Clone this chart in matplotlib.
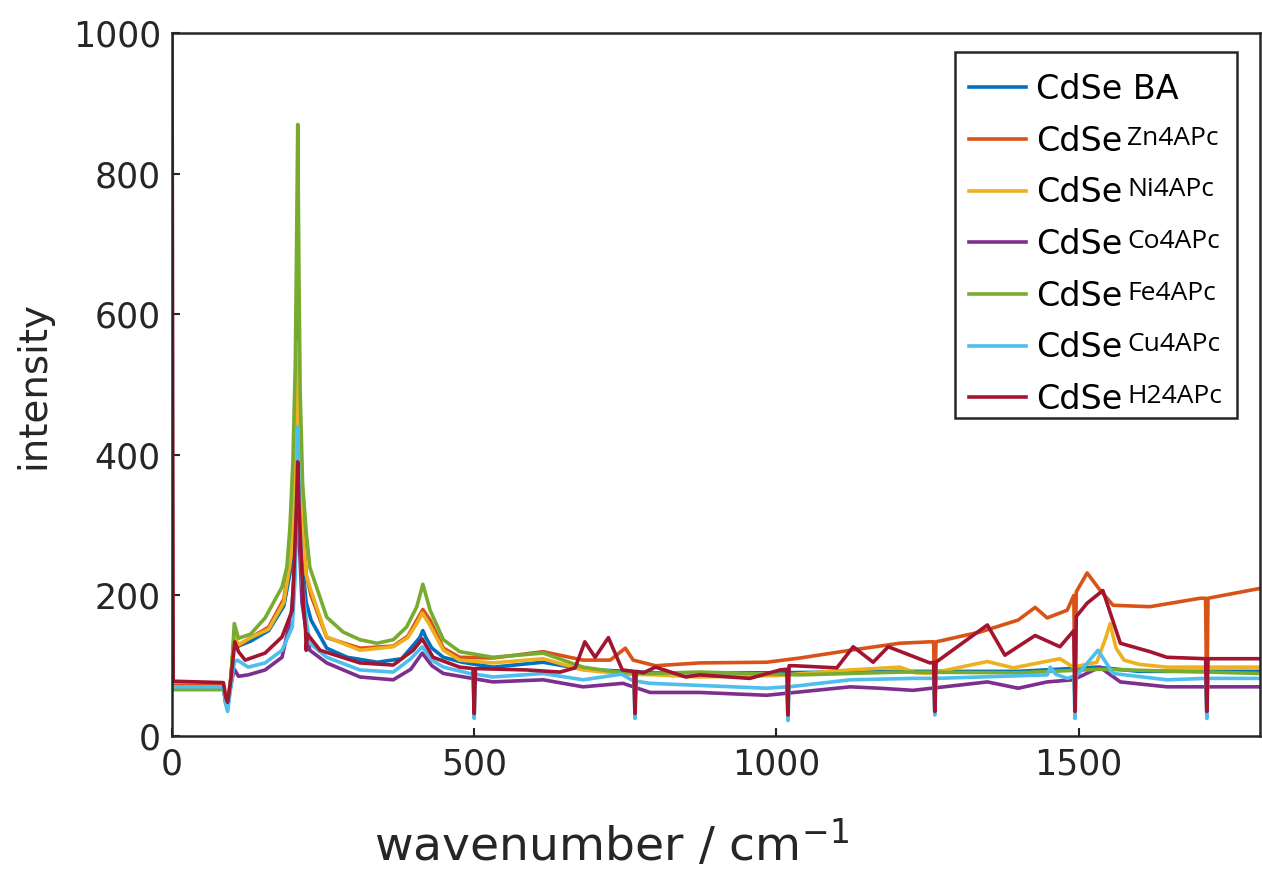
import matplotlib
matplotlib.use("Agg")
import matplotlib.pyplot as plt
from matplotlib.patches import Rectangle
from matplotlib.transforms import IdentityTransform

# wavenumber (cm^-1) / intensity points
BA_X = [0, 85, 89, 92, 97, 103, 110, 130, 160, 185, 197, 203, 206, 208, 211, 215, 222, 230, 256, 290,
        340, 380, 400, 410, 415, 420, 430, 449, 480, 531, 614, 680, 800, 1000, 1200, 1400, 1530, 1600, 1800]
BA_Y = [72, 72, 50, 45, 80, 140, 128, 135, 150, 185, 240, 330, 400, 430, 340, 250, 190, 165, 125, 112,
        105, 110, 130, 140, 150, 140, 125, 112, 105, 98, 105, 95, 90, 90, 92, 92, 98, 92, 92]

ZN_X = [0, 85, 89, 92, 97, 103, 110, 130, 160, 185, 197, 203, 206, 208, 211, 215, 222, 230, 256, 311,
        366, 390, 405, 415, 427, 449, 476, 531, 614, 680, 725, 750, 763, 800, 873, 984, 1039, 1122, 1204,
        1254, 1260, 1262, 1264, 1337, 1400, 1428, 1448, 1481, 1492, 1494, 1496, 1514, 1535, 1557, 1618,
        1701, 1710, 1712, 1714, 1800]
ZN_Y = [72, 72, 50, 45, 80, 140, 128, 140, 155, 195, 260, 380, 520, 620, 460, 320, 230, 200, 140, 125,
        128, 142, 165, 180, 165, 125, 112, 111, 120, 108, 108, 125, 108, 100, 104, 105, 111, 122, 132,
        134, 134, 40, 134, 148, 165, 183, 168, 179, 200, 40, 205, 232, 208, 186, 184,
        196, 196, 35, 196, 210]

NI_X = [0, 85, 89, 92, 97, 103, 110, 130, 160, 185, 197, 203, 206, 208, 211, 215, 222, 228, 256, 311,
        366, 390, 405, 414, 425, 449, 476, 531, 614, 680, 753, 800, 873, 1000, 1122, 1204, 1230, 1254,
        1349, 1392, 1469, 1491, 1530, 1545, 1552, 1562, 1575, 1600, 1646, 1800]
NI_Y = [70, 70, 48, 45, 78, 145, 130, 140, 152, 190, 255, 370, 480, 560, 420, 300, 230, 212, 141, 122,
        127, 140, 160, 175, 160, 122, 108, 104, 110, 94, 88, 87, 84, 86, 94, 98, 90, 89,
        106, 97, 110, 98, 105, 140, 160, 125, 108, 102, 98, 98]

CO_X = [0, 85, 89, 92, 97, 103, 110, 126, 154, 182, 197, 203, 206, 208, 211, 215, 222, 228, 256, 311,
        366, 395, 414, 430, 449, 531, 614, 680, 746, 791, 873, 984, 1122, 1171, 1226, 1349, 1400, 1448,
        1491, 1535, 1569, 1646, 1800]
CO_Y = [70, 70, 45, 42, 72, 95, 85, 87, 94, 112, 170, 240, 300, 350, 270, 190, 150, 122, 104, 84,
        80, 95, 118, 100, 89, 77, 80, 70, 75, 62, 62, 58, 70, 68, 65, 77, 68, 77,
        80, 98, 77, 70, 70]

FE_X = [0, 85, 89, 92, 97, 103, 110, 130, 154, 182, 190, 195, 200, 204, 206, 208, 210, 212, 216, 222,
        228, 256, 283, 311, 339, 366, 388, 405, 415, 427, 449, 476, 531, 614, 680, 736, 791, 873, 1039,
        1204, 1400, 1535, 1800]
FE_Y = [66, 66, 50, 45, 70, 160, 139, 145, 168, 212, 240, 295, 390, 530, 690, 870, 660, 490, 360, 290,
        240, 169, 148, 137, 132, 137, 155, 184, 216, 179, 137, 120, 112, 118, 98, 91, 89, 91, 87,
        91, 90, 95, 89]

CU_X = [0, 85, 89, 92, 97, 103, 108, 126, 154, 182, 199, 204, 206, 208, 211, 215, 222, 228, 256, 311,
        366, 395, 414, 430, 449, 498, 500, 502, 531, 614, 680, 744, 764, 766, 768, 791, 873, 984, 1017,
        1019, 1021, 1122, 1226, 1260, 1262, 1264, 1448, 1453, 1462, 1481, 1492, 1494, 1496, 1532, 1557,
        1646, 1710, 1712, 1714, 1800]
CU_Y = [70, 70, 45, 35, 68, 105, 108, 98, 104, 122, 155, 230, 330, 440, 320, 220, 165, 132, 112, 94,
        91, 110, 127, 108, 98, 88, 25, 88, 84, 89, 80, 88, 78, 25, 78, 75, 72, 68, 70,
        22, 70, 80, 82, 82, 30, 82, 87, 98, 88, 82, 85, 25, 85, 122, 89,
        80, 82, 25, 82, 82]

H2_X = [0, 2, 85, 89, 92, 97, 104, 110, 121, 154, 182, 199, 203, 206, 208, 210, 214, 218, 221, 222,
        224, 245, 311, 366, 399, 414, 432, 476, 498, 500, 502, 587, 642, 667, 683, 700, 722, 745, 764,
        766, 768, 780, 800, 850, 873, 956, 1006, 1017, 1019, 1021, 1030, 1100, 1127, 1160, 1185, 1254,
        1260, 1262, 1264, 1349, 1378, 1428, 1469, 1492, 1494, 1496, 1514, 1540, 1569, 1618, 1646, 1710,
        1712, 1714, 1800]
H2_Y = [1000, 78, 76, 55, 48, 78, 134, 120, 108, 118, 141, 179, 260, 330, 390, 330, 250, 180, 150, 122,
        145, 122, 104, 101, 122, 138, 112, 98, 96, 32, 96, 94, 91, 97, 134, 112, 140, 94, 92,
        32, 92, 90, 98, 84, 87, 82, 94, 95, 30, 100, 100, 97, 127, 105, 127, 104,
        105, 35, 105, 158, 115, 143, 127, 150, 35, 170, 189, 207, 132, 120, 112, 110,
        35, 110, 110]

SUFFIXES = ["BA", "Zn4APc", "Ni4APc", "Co4APc", "Fe4APc", "Cu4APc", "H24APc"]
COLORS = ["#0072BD", "#D95319", "#EDB120", "#7E2F8E", "#77AC30", "#4DBEEE", "#A2142F"]
SERIES = [(BA_X, BA_Y), (ZN_X, ZN_Y), (NI_X, NI_Y), (CO_X, CO_Y), (FE_X, FE_Y), (CU_X, CU_Y), (H2_X, H2_Y)]


def main() -> None:
    fig = plt.figure(figsize=(12.62, 8.69), dpi=100)
    ax = fig.add_axes([0.1363, 0.1530, 0.8621, 0.8090])

    for (xs, ys), color, suffix in zip(SERIES, COLORS, SUFFIXES):
        label = "CdSe BA" if suffix == "BA" else "CdSe"
        ax.plot(xs, ys, color=color, linewidth=2.6, label=label)

    ax.set_xlim(0, 1800)
    ax.set_ylim(0, 1000)
    ax.set_xticks([0, 500, 1000, 1500])
    ax.set_yticks([0, 200, 400, 600, 800, 1000])
    ax.tick_params(direction="in", length=6, width=1.5, labelsize=25, colors="#262626",
                   labelcolor="#262626", pad=8)
    for spine in ax.spines.values():
        spine.set_linewidth(1.8)
        spine.set_color("#262626")

    ax.set_xlabel("wavenumber / cm$^{-1}$", fontsize=34, color="#262626")
    ax.set_ylabel("intensity", fontsize=28, color="#262626")
    ax.xaxis.set_label_coords(0.404, -0.118)
    ax.yaxis.set_label_coords(-0.11, 0.5)

    # legend frame drawn separately so the entries can sit a little lower in it
    box = Rectangle((0.7197, 0.4523), 0.2592, 0.5207, transform=ax.transAxes, facecolor="white",
                    edgecolor="#262626", linewidth=1.8, zorder=4, clip_on=False)
    ax.add_patch(box)
    leg = ax.legend(loc="upper left", bbox_to_anchor=(0.7197, 0.4423, 0.2592, 0.5207), mode="expand",
                    borderaxespad=0, fontsize=24, handlelength=1.7, handletextpad=0.3,
                    labelspacing=0.56, borderpad=0.42, frameon=False)
    leg.set_zorder(5)

    # suffixes in a smaller, different face after "CdSe"
    fig.canvas.draw()
    for text, suffix in zip(leg.get_texts()[1:], SUFFIXES[1:]):
        bb = text.get_window_extent()
        fig.text(bb.x1 + 5, bb.y0 + 13, suffix, transform=IdentityTransform(),
                 fontfamily="Open Sans", fontsize=19, va="baseline", ha="left", color="black")

    fig.savefig("out.png", dpi=100)
    plt.close(fig)


if __name__ == "__main__":
    main()
